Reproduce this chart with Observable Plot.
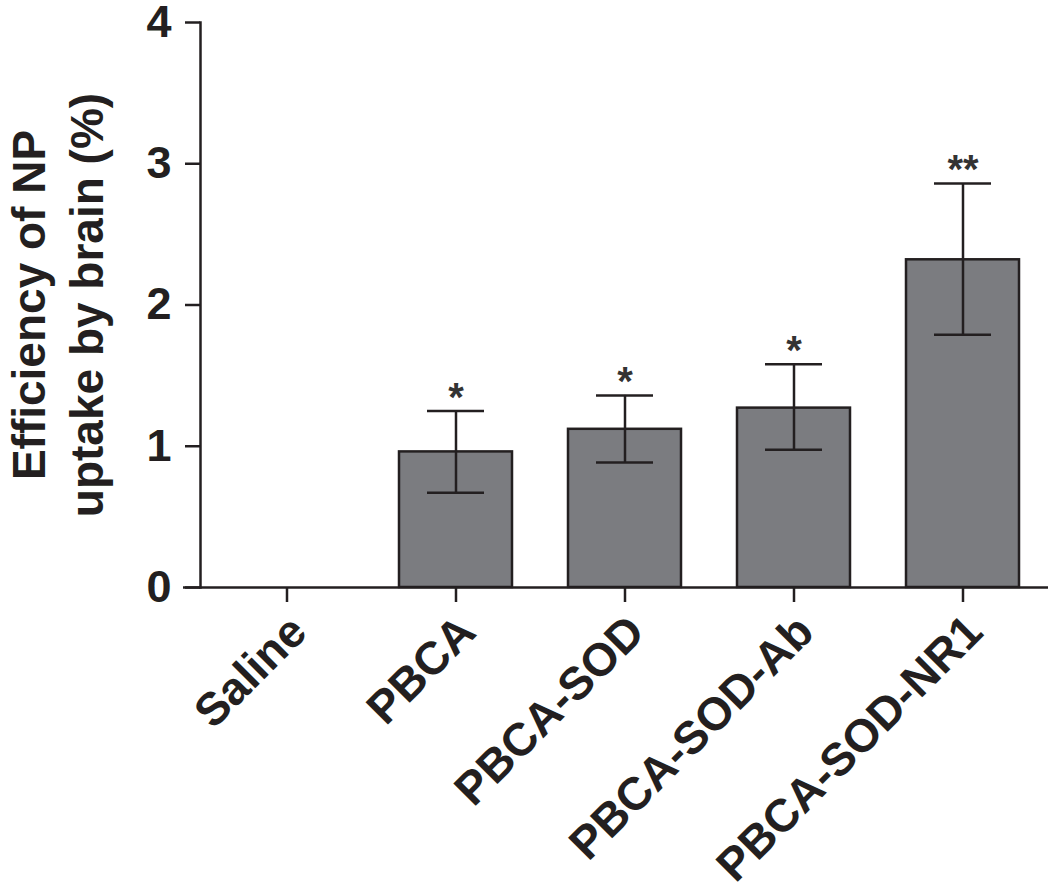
<!DOCTYPE html>
<html>
<head>
<meta charset="utf-8">
<script src="https://cdn.jsdelivr.net/npm/d3@7"></script>
<script src="https://cdn.jsdelivr.net/npm/@observablehq/plot@0.6"></script>
<style>
  html, body { margin: 0; padding: 0; background: #fff; }
</style>
</head>
<body>
<div id="chart"></div>
<script>
const categories = ["Saline", "PBCA", "PBCA-SOD", "PBCA-SOD-Ab", "PBCA-SOD-NR1"];
const means = [0, 0.96, 1.12, 1.27, 2.32];
const upper = [null, 1.25, 1.36, 1.58, 2.86];
const lower = [null, 0.67, 0.885, 0.975, 1.79];
const significance = ["", "*", "*", "*", "**"];
const yTicks = [0, 1, 2, 3, 4];
const yLabelLines = ["Efficiency of NP", "uptake by brain (%)"];

const data = categories.map((c, i) => ({cat: c, mean: means[i], hi: upper[i], lo: lower[i], sig: significance[i]}));
const bars = data.filter(d => d.mean > 0);
const errs = data.filter(d => d.hi != null);

const ink = "#231f20";
const sw = 2.5;

const chart = Plot.plot({
  width: 1050,
  height: 893,
  marginLeft: 200,
  marginRight: 2,
  marginTop: 22,
  marginBottom: 306,
  x: {domain: categories, paddingInner: 0.33, paddingOuter: 0.165, insetLeft: 2, axis: null},
  y: {domain: [0, 4], axis: null},
  style: {fontFamily: "'Liberation Sans', Arial, Helvetica, sans-serif", fontWeight: "bold", color: ink, background: "#fff"},
  marks: [
    Plot.barY(bars, {x: "cat", y: "mean", fill: "#7b7c80", stroke: ink, strokeWidth: sw}),
    Plot.ruleX(errs, {x: "cat", y1: "lo", y2: "hi", stroke: ink, strokeWidth: sw}),
    Plot.tickY(errs, {x: "cat", y: "hi", insetLeft: 28, insetRight: 28, stroke: ink, strokeWidth: sw}),
    Plot.tickY(errs, {x: "cat", y: "lo", insetLeft: 28, insetRight: 28, stroke: ink, strokeWidth: sw}),
    Plot.text(errs, {x: "cat", y: "hi", text: "sig", dy: -13, fontSize: 40, fill: "#333"}),
    Plot.ruleY([0], {insetLeft: -17, stroke: ink, strokeWidth: sw}),
    Plot.frame({anchor: "left", stroke: ink, strokeWidth: sw}),
    Plot.axisY({ticks: yTicks, tickSize: 15, tickPadding: 14, fontSize: 45, strokeWidth: sw, label: null, tickFormat: d => String(d)}),
    Plot.axisX({tickSize: 15, tickFormat: () => "", label: null, strokeWidth: sw}),
    Plot.text(categories, {x: d => d, frameAnchor: "bottom", rotate: -45, textAnchor: "end", dx: 22, dy: 47, fontSize: 46}),
    Plot.text([yLabelLines.join("\n")], {text: d => d, frameAnchor: "left", textAnchor: "middle", lineAnchor: "middle", rotate: -90, dx: -145, fontSize: 46, lineHeight: 1.25})
  ]
});
document.getElementById("chart").appendChild(chart);
</script>
</body>
</html>
